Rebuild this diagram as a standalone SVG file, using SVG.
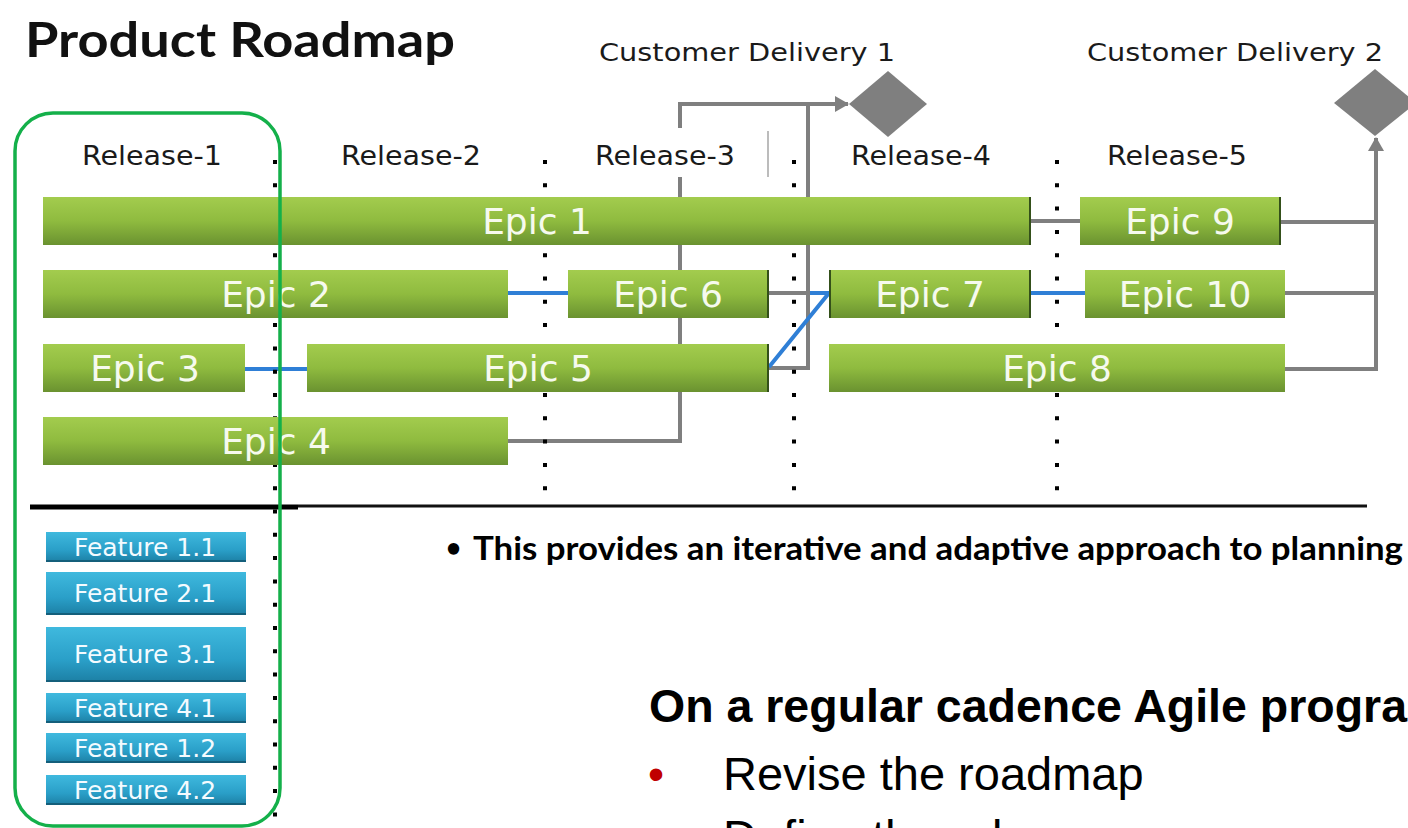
<svg xmlns="http://www.w3.org/2000/svg" width="1408" height="828" viewBox="0 0 1408 828">
  <defs>
    <linearGradient id="epicFill" x1="0" y1="0" x2="0" y2="1">
      <stop offset="0" stop-color="#a3cc4e"/>
      <stop offset="0.5" stop-color="#8fbb3f"/>
      <stop offset="1" stop-color="#6a9230"/>
    </linearGradient>
    <linearGradient id="featFill" x1="0" y1="0" x2="0" y2="1">
      <stop offset="0" stop-color="#3fb9de"/>
      <stop offset="0.6" stop-color="#2a9fc8"/>
      <stop offset="1" stop-color="#1c7fa4"/>
    </linearGradient>
    <marker id="arrowGray" viewBox="0 0 14 16" refX="13" refY="8" markerWidth="14" markerHeight="16" markerUnits="userSpaceOnUse" orient="auto">
      <path d="M0,0 L14,8 L0,16 Z" fill="#7f7f7f"/>
    </marker>
    <style>
      .title { font-family: Lato, "Open Sans", "Liberation Sans", sans-serif; font-weight: 700; fill: #111; }
      .lbl { font-family: "DejaVu Sans", Verdana, sans-serif; fill: #1a1a1a; }
      .epic rect { fill: url(#epicFill); }
      .epic text { font-family: "DejaVu Sans", Verdana, sans-serif; font-size: 36px; fill: #f6faee; text-anchor: middle; }
      .feat rect { fill: url(#featFill); }
      .feat line { stroke: #145f7b; stroke-width: 2; }
      .feat text { font-family: "DejaVu Sans", Verdana, sans-serif; font-size: 25px; fill: #f4fbff; text-anchor: middle; }
      .endmark { stroke: #34501a; stroke-width: 2; }
      .gray { stroke: #7f7f7f; stroke-width: 4; fill: none; }
      .blue { stroke: #2f7fd6; stroke-width: 4; fill: none; }
      .dots { stroke: #000; stroke-width: 4; stroke-dasharray: 4 19.3; }
      .note { font-family: Lato, "Open Sans", sans-serif; font-weight: 700; fill: #000; }
      .body { font-family: "Liberation Sans", Arial, sans-serif; fill: #000; }
    </style>
  </defs>

  <rect x="0" y="0" width="1408" height="828" fill="#ffffff"/>

  <!-- heading -->
  <text class="title" x="25" y="57" font-size="48" textLength="430" lengthAdjust="spacingAndGlyphs">Product Roadmap</text>

  <!-- milestone captions and release headers -->
  <text class="lbl" x="599" y="61" font-size="25" textLength="296" lengthAdjust="spacingAndGlyphs">Customer Delivery 1</text>
  <text class="lbl" x="1087" y="61" font-size="25" textLength="296" lengthAdjust="spacingAndGlyphs">Customer Delivery 2</text>
  <text class="lbl" x="82" y="165" font-size="26" textLength="140" lengthAdjust="spacingAndGlyphs">Release-1</text>
  <text class="lbl" x="341" y="165" font-size="26" textLength="140" lengthAdjust="spacingAndGlyphs">Release-2</text>
  <text class="lbl" x="595" y="165" font-size="26" textLength="140" lengthAdjust="spacingAndGlyphs">Release-3</text>
  <text class="lbl" x="851" y="165" font-size="26" textLength="140" lengthAdjust="spacingAndGlyphs">Release-4</text>
  <text class="lbl" x="1107" y="165" font-size="26" textLength="140" lengthAdjust="spacingAndGlyphs">Release-5</text>
  <line x1="768" y1="131" x2="768" y2="177" stroke="#a6a6a6" stroke-width="1.5"/>

  <!-- delivery milestones -->
  <g id="delivery1"><polygon points="888,71 927,104 888,137 849,104" fill="#7f7f7f"/></g>
  <g id="delivery2"><polygon points="1375,69 1416,103 1375,136 1334,103" fill="#7f7f7f"/></g>

  <!-- connectors -->
  <g id="connectors">
    <path class="gray" d="M508,441 H680 V177"/>
    <path class="gray" d="M680,128 V104 H848" marker-end="url(#arrowGray)"/>
    <path class="gray" d="M768,293 H808"/>
    <path class="gray" d="M768,368 H808 V104"/>
    <path class="gray" d="M1030,221 H1080"/>
    <path class="gray" d="M1280,222 H1376"/>
    <path class="gray" d="M1285,293 H1376"/>
    <path class="gray" d="M1285,369 H1376 V138" marker-end="url(#arrowGray)"/>
    <path class="blue" d="M508,293 H568"/>
    <path class="blue" d="M245,369 H307"/>
    <path class="blue" d="M769,367 L829,293 H810"/>
    <path class="blue" d="M1030,293 H1085"/>
  </g>

  <!-- release boundaries -->
  <g id="boundaries">
    <line class="dots" x1="275" y1="160" x2="275" y2="817"/>
    <line class="dots" x1="545" y1="160" x2="545" y2="492"/>
    <line class="dots" x1="794" y1="160" x2="794" y2="492"/>
    <line class="dots" x1="1057" y1="160" x2="1057" y2="492"/>
  </g>

  <!-- epics -->
  <g id="epic1" class="epic"><rect x="43" y="197" width="987" height="48"/><text x="537" y="234">Epic 1</text></g>
  <g id="epic9" class="epic"><rect x="1080" y="197" width="200" height="48"/><text x="1180" y="234">Epic 9</text></g>
  <g id="epic2" class="epic"><rect x="43" y="270" width="465" height="48"/><text x="276" y="307">Epic 2</text></g>
  <g id="epic6" class="epic"><rect x="568" y="270" width="200" height="48"/><text x="668" y="307">Epic 6</text></g>
  <g id="epic7" class="epic"><rect x="829" y="270" width="201" height="48"/><text x="930" y="307">Epic 7</text></g>
  <g id="epic10" class="epic"><rect x="1085" y="270" width="200" height="48"/><text x="1185" y="307">Epic 10</text></g>
  <g id="epic3" class="epic"><rect x="43" y="344" width="202" height="48"/><text x="145" y="381">Epic 3</text></g>
  <g id="epic5" class="epic"><rect x="307" y="344" width="461" height="48"/><text x="538" y="381">Epic 5</text></g>
  <g id="epic8" class="epic"><rect x="829" y="344" width="456" height="48"/><text x="1057" y="381">Epic 8</text></g>
  <g id="epic4" class="epic"><rect x="43" y="417" width="465" height="48"/><text x="276" y="454">Epic 4</text></g>
  <g id="endmarks">
    <line class="endmark" x1="1030" y1="197" x2="1030" y2="245"/>
    <line class="endmark" x1="1280" y1="197" x2="1280" y2="245"/>
    <line class="endmark" x1="768" y1="270" x2="768" y2="318"/>
    <line class="endmark" x1="830" y1="270" x2="830" y2="318"/>
    <line class="endmark" x1="1030" y1="270" x2="1030" y2="318"/>
    <line class="endmark" x1="768" y1="344" x2="768" y2="392"/>
  </g>

  <!-- timeline base -->
  <line x1="30" y1="507" x2="298" y2="507" stroke="#000" stroke-width="5"/>
  <line x1="298" y1="506" x2="1367" y2="506" stroke="#111" stroke-width="3"/>

  <!-- release-1 features -->
  <g id="f11" class="feat"><rect x="46" y="532" width="200" height="30"/><line x1="46" y1="561" x2="246" y2="561"/><text x="145" y="556">Feature 1.1</text></g>
  <g id="f21" class="feat"><rect x="46" y="572" width="200" height="43"/><line x1="46" y1="614" x2="246" y2="614"/><text x="145" y="602">Feature 2.1</text></g>
  <g id="f31" class="feat"><rect x="46" y="627" width="200" height="55"/><line x1="46" y1="681" x2="246" y2="681"/><text x="145" y="663">Feature 3.1</text></g>
  <g id="f41" class="feat"><rect x="46" y="693" width="200" height="30"/><line x1="46" y1="722" x2="246" y2="722"/><text x="145" y="717">Feature 4.1</text></g>
  <g id="f12" class="feat"><rect x="46" y="733" width="200" height="30"/><line x1="46" y1="762" x2="246" y2="762"/><text x="145" y="757">Feature 1.2</text></g>
  <g id="f42" class="feat"><rect x="46" y="775" width="200" height="30"/><line x1="46" y1="804" x2="246" y2="804"/><text x="145" y="799">Feature 4.2</text></g>

  <!-- release-1 highlight -->
  <rect id="release1Frame" x="15" y="113" width="265" height="713" rx="38" ry="38" fill="none" stroke="#14b04a" stroke-width="3.5"/>

  <!-- notes -->
  <text class="note" x="446" y="557" font-size="26">•</text>
  <text class="note" x="473" y="560" font-size="33" textLength="930" lengthAdjust="spacingAndGlyphs">This provides an iterative and adaptive approach to planning</text>

  <text class="body" x="649" y="722" font-size="46.5" font-weight="700">On a regular cadence Agile progra</text>
  <text class="body" x="648" y="790" font-size="46" style="fill:#c00000">•</text>
  <text class="body" x="723" y="790" font-size="47">Revise the roadmap</text>
  <text class="body" x="723" y="853" font-size="47">Define the release</text>
</svg>
